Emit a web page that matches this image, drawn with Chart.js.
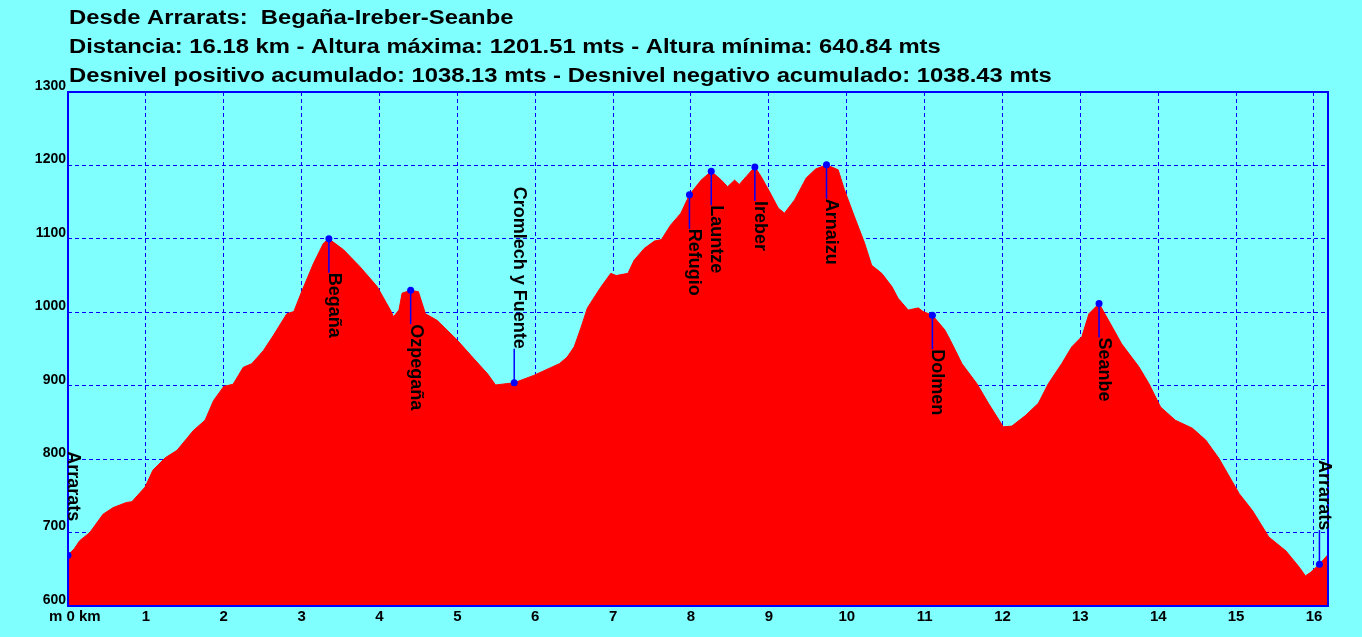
<!DOCTYPE html>
<html>
<head>
<meta charset="utf-8">
<script src="https://cdn.jsdelivr.net/npm/chart.js@4.4.1/dist/chart.umd.min.js"></script>
<style>
html, body { margin: 0; padding: 0; background: #80ffff; }
canvas { display: block; }
</style>
</head>
<body>
<canvas id="perfil" width="1362" height="637"></canvas>
<script>
var tituloLineas = [
    'Desde Arrarats:  Begaña-Ireber-Seanbe',
    'Distancia: 16.18 km - Altura máxima: 1201.51 mts - Altura mínima: 640.84 mts',
    'Desnivel positivo acumulado: 1038.13 mts - Desnivel negativo acumulado: 1038.43 mts'
];

// perfil: distancia (km) y altura (m)
var distancias = [0.00, 0.08, 0.15, 0.28, 0.45, 0.58, 0.75, 0.82, 0.99, 1.09, 1.25, 1.40, 1.61, 1.76, 1.87, 2.00,
    2.12, 2.25, 2.36, 2.51, 2.64, 2.81, 2.90, 3.00, 3.15, 3.28, 3.35, 3.54, 3.75, 3.97, 4.14, 4.18,
    4.25, 4.29, 4.40, 4.50, 4.59, 4.74, 5.00, 5.21, 5.39, 5.49, 5.73, 5.98, 6.31, 6.41, 6.50, 6.59,
    6.67, 6.84, 6.97, 7.04, 7.19, 7.27, 7.40, 7.53, 7.62, 7.74, 7.87, 7.98, 8.13, 8.26, 8.39, 8.47,
    8.56, 8.62, 8.71, 8.82, 8.90, 9.01, 9.12, 9.20, 9.33, 9.48, 9.60, 9.74, 9.89, 9.97, 10.10, 10.23,
    10.32, 10.45, 10.58, 10.66, 10.79, 10.92, 10.98, 11.10, 11.26, 11.33, 11.48, 11.67, 11.82, 12.01, 12.12, 12.29,
    12.46, 12.59, 12.76, 12.89, 13.02, 13.11, 13.24, 13.41, 13.53, 13.75, 13.88, 14.03, 14.22, 14.44, 14.61, 14.78,
    15.04, 15.21, 15.42, 15.64, 15.81, 15.89, 15.96, 16.07, 16.18];
var alturas = [669, 678, 689, 700, 725, 734, 741, 742, 762, 785, 802, 812, 839, 853, 880, 899,
    902, 925, 930, 948, 969, 998, 1001, 1028, 1066, 1094, 1100, 1085, 1062, 1035, 1003, 994,
    1003, 1026, 1030, 1028, 998, 989, 962, 937, 916, 901, 904, 914, 930, 939, 953, 980,
    1006, 1034, 1053, 1050, 1053, 1071, 1087, 1097, 1099, 1119, 1135, 1160, 1180, 1192, 1180, 1171,
    1180, 1174, 1185, 1198, 1185, 1164, 1142, 1135, 1153, 1183, 1195, 1201, 1194, 1167, 1130, 1094,
    1064, 1053, 1035, 1019, 1003, 1006, 1001, 996, 976, 962, 930, 903, 876, 844, 845, 859,
    876, 903, 930, 953, 967, 998, 1012, 980, 957, 926, 903, 871, 853, 842, 826, 801,
    753, 730, 694, 675, 653, 641, 646, 657, 670];

// puntos de paso
var puntosNombre = ['Arrarats', 'Begaña', 'Ozpegaña', 'Cromlech y Fuente', 'Refugio', 'Launtze',
    'Ireber', 'Arnaizu', 'Dolmen', 'Seanbe', 'Arrarats'];
var puntosKm = [0.00, 3.35, 4.40, 5.73, 7.98, 8.26, 8.82, 9.74, 11.10, 13.24, 16.07];
var puntosAltura = [669, 1100, 1030, 904, 1160, 1192, 1198, 1201, 996, 1012, 657];

var kmTicks = [0, 1, 2, 3, 4, 5, 6, 7, 8, 9, 10, 11, 12, 13, 14, 15, 16];
var alturaTicks = [600, 700, 800, 900, 1000, 1100, 1200, 1300];

var AZUL = '#0000ff';
var FUENTE = '"Liberation Sans", Arial, sans-serif';
// rotulos que van por encima del punto
var rotuloArriba = [true, false, false, true, false, false, false, false, false, false, true];

var rotulos = {
    id: 'rotulos',
    afterDatasetDraw: function(chart, args) {
        if (args.index !== 0) return;
        var ctx = chart.ctx, x = chart.scales.x, y = chart.scales.y;
        ctx.save();
        ctx.strokeStyle = AZUL;
        ctx.lineWidth = 1.5;
        for (var i = 0; i < puntosKm.length; i++) {
            var px = x.getPixelForValue(puntosKm[i]);
            var py = y.getPixelForValue(puntosAltura[i]);
            ctx.beginPath();
            ctx.moveTo(px, py);
            ctx.lineTo(px, rotuloArriba[i] ? py - 34 : py + 34);
            ctx.stroke();
        }
        ctx.restore();
    },
    afterDraw: function(chart) {
        var ctx = chart.ctx, a = chart.chartArea, x = chart.scales.x, y = chart.scales.y;
        ctx.save();
        ctx.strokeStyle = AZUL;
        ctx.lineWidth = 2;
        ctx.strokeRect(a.left, a.top, a.right - a.left, a.bottom - a.top);

        ctx.fillStyle = '#000';
        ctx.textBaseline = 'alphabetic';
        ctx.textAlign = 'left';

        // titulo: letra ancha como en el original
        ctx.save();
        ctx.translate(69, 0);
        ctx.scale(1.19, 1);
        ctx.font = 'bold 20px ' + FUENTE;
        for (var t = 0; t < tituloLineas.length; t++) {
            ctx.fillText(tituloLineas[t], 0, 24 + t * 29);
        }
        ctx.restore();

        ctx.font = 'bold 15px ' + FUENTE;
        ctx.fillText('m 0 km', 49, 621);

        ctx.font = 'bold 18px ' + FUENTE;
        for (var i = 0; i < puntosKm.length; i++) {
            var px = x.getPixelForValue(puntosKm[i]);
            var py = y.getPixelForValue(puntosAltura[i]);
            ctx.save();
            ctx.translate(px, py);
            ctx.rotate(Math.PI / 2);
            if (rotuloArriba[i]) {
                ctx.textAlign = 'right';
                ctx.fillText(puntosNombre[i], -34, 0);
            } else {
                ctx.textAlign = 'left';
                ctx.fillText(puntosNombre[i], 34, 0);
            }
            ctx.restore();
        }
        ctx.restore();
    }
};

var perfilChart = new Chart(document.getElementById('perfil').getContext('2d'), {
    type: 'line',
    data: {
        datasets: [{
            data: distancias.map(function(d, i) { return { x: d, y: alturas[i] }; }),
            borderColor: '#ff0000',
            borderWidth: 1,
            backgroundColor: '#ff0000',
            fill: 'start',
            pointRadius: 0,
            tension: 0,
            order: 1
        }, {
            data: puntosKm.map(function(d, i) { return { x: d, y: puntosAltura[i] }; }),
            showLine: false,
            pointRadius: 3.5,
            pointBorderWidth: 0,
            pointBackgroundColor: AZUL,
            order: 0
        }]
    },
    options: {
        responsive: false,
        animation: false,
        devicePixelRatio: 1,
        layout: { padding: { left: 0, top: 92, right: 34, bottom: 0 } },
        plugins: { legend: { display: false }, tooltip: { enabled: false } },
        scales: {
            x: {
                type: 'linear',
                min: 0,
                max: 16.18,
                z: 1,
                afterFit: function(s) { s.height = 31; },
                afterBuildTicks: function(s) { s.ticks = kmTicks.map(function(v) { return { value: v }; }); },
                grid: { color: AZUL, lineWidth: 1, drawTicks: false },
                border: { display: false, dash: [4, 3] },
                ticks: {
                    color: '#000',
                    padding: 2,
                    maxRotation: 0,
                    autoSkip: false,
                    font: { family: FUENTE, size: 15, weight: 'bold' },
                    callback: function(v) { return v === 0 ? '' : String(v); }
                }
            },
            y: {
                min: 600,
                max: 1300,
                z: 1,
                afterFit: function(s) { s.width = 68; },
                afterBuildTicks: function(s) { s.ticks = alturaTicks.map(function(v) { return { value: v }; }); },
                grid: { color: AZUL, lineWidth: 1, drawTicks: false },
                border: { display: false, dash: [4, 3] },
                ticks: {
                    color: '#000',
                    padding: 2,
                    labelOffset: -6,
                    font: { family: FUENTE, size: 14, weight: 'bold' },
                    callback: function(v) { return String(v); }
                }
            }
        }
    },
    plugins: [rotulos]
});
</script>
</body>
</html>
